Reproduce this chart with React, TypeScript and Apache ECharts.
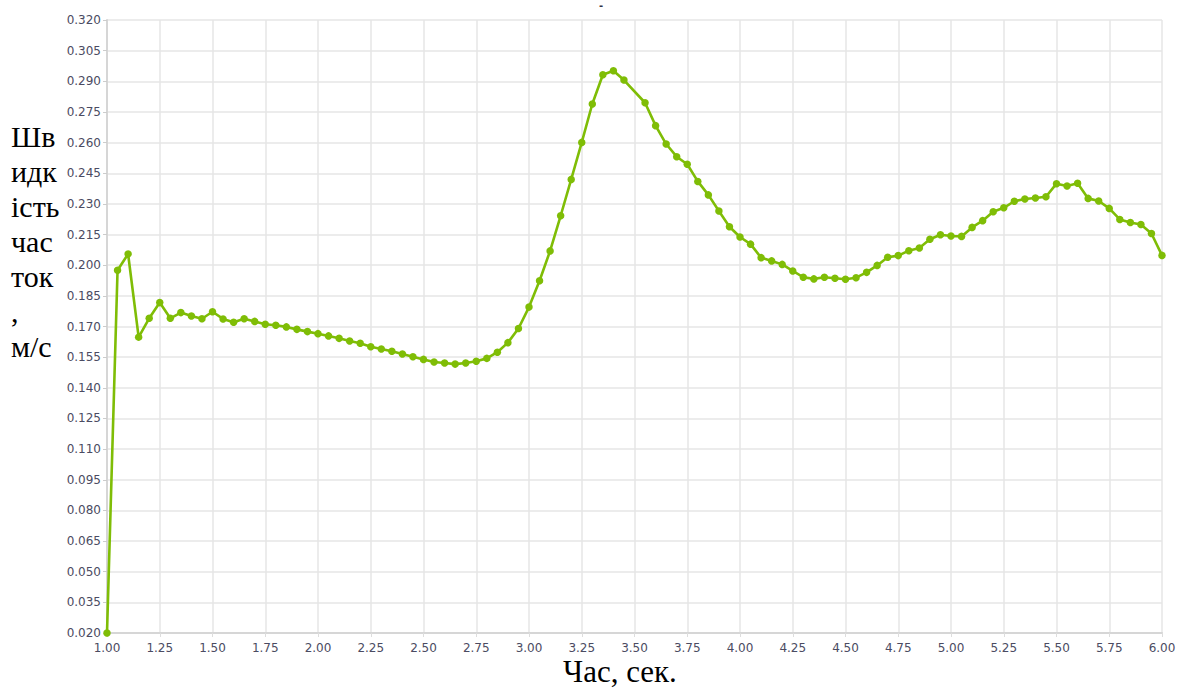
import React, { useEffect, useRef } from "react";
import * as echarts from "echarts";

const times = [
  1.0, 1.05, 1.1, 1.15, 1.2, 1.25, 1.3, 1.35, 1.4, 1.45, 1.5, 1.55, 1.6, 1.65, 1.7, 1.75, 1.8, 1.85, 1.9, 1.95,
  2.0, 2.05, 2.1, 2.15, 2.2, 2.25, 2.3, 2.35, 2.4, 2.45, 2.5, 2.55, 2.6, 2.65, 2.7, 2.75, 2.8, 2.85, 2.9, 2.95,
  3.0, 3.05, 3.1, 3.15, 3.2, 3.25, 3.3, 3.35, 3.4, 3.45, 3.55, 3.6, 3.65, 3.7, 3.75, 3.8, 3.85, 3.9, 3.95,
  4.0, 4.05, 4.1, 4.15, 4.2, 4.25, 4.3, 4.35, 4.4, 4.45, 4.5, 4.55, 4.6, 4.65, 4.7, 4.75, 4.8, 4.85, 4.9, 4.95,
  5.0, 5.05, 5.1, 5.15, 5.2, 5.25, 5.3, 5.35, 5.4, 5.45, 5.5, 5.55, 5.6, 5.65, 5.7, 5.75, 5.8, 5.85, 5.9, 5.95,
  6.0,
];

const speeds = [
  0.02, 0.1975, 0.2055, 0.1648, 0.174, 0.1817, 0.174, 0.1768, 0.1751, 0.1738, 0.1772, 0.1737, 0.1721, 0.1738, 0.1725, 0.1711, 0.1706, 0.1698, 0.1686, 0.1675,
  0.1665, 0.1654, 0.1642, 0.1629, 0.1618, 0.1601, 0.159, 0.1579, 0.1565, 0.1552, 0.1539, 0.1526, 0.1521, 0.1516, 0.1521, 0.153, 0.1544, 0.1574, 0.1621, 0.169,
  0.1795, 0.1924, 0.207, 0.2242, 0.242, 0.2601, 0.2789, 0.2932, 0.2952, 0.2906, 0.2795, 0.2683, 0.2593, 0.2531, 0.2494, 0.241, 0.2344, 0.2265, 0.2188,
  0.2138, 0.2103, 0.2037, 0.2021, 0.2004, 0.1972, 0.1941, 0.1933, 0.1941, 0.1936, 0.1931, 0.1939, 0.1965, 0.1999, 0.2039, 0.2047, 0.2071, 0.2084, 0.2127, 0.2149,
  0.2143, 0.2141, 0.2185, 0.2218, 0.2262, 0.2281, 0.2313, 0.2324, 0.2329, 0.2335, 0.2399, 0.2388, 0.2401, 0.2327, 0.2314, 0.2278, 0.2224, 0.2209, 0.2199, 0.2155,
  0.2048,
];

const yLabelLines = ["Шв", "идк", "ість", "час", "ток", ",", "м/с"];
const xAxisTitle = "Час, сек.";

export default function App() {
  const ref = useRef<HTMLDivElement>(null);
  useEffect(() => {
    if (!ref.current) return;
    const chart = echarts.init(ref.current, null, { renderer: "svg" });
    const labelColor = "#4b4b62";
    const option: any = {
      animation: false,
      backgroundColor: "#ffffff",
      grid: { left: 107, right: 23, top: 20, bottom: 62, containLabel: false },
      xAxis: {
        type: "value",
        min: 1,
        max: 6,
        interval: 0.25,
        axisLine: { show: true, lineStyle: { color: "#d6d6d6", width: 2 } },
        axisTick: { show: true, length: 4, lineStyle: { color: "#dddddd" } },
        splitLine: { show: true, lineStyle: { color: "#e6e6e6", width: 1.5 } },
        axisLabel: {
          color: labelColor,
          fontFamily: "DejaVu Sans",
          fontSize: 12,
          margin: 9,
          formatter: (v: number) => v.toFixed(2),
        },
      },
      yAxis: {
        type: "value",
        min: 0.02,
        max: 0.32,
        interval: 0.015,
        axisLine: { show: true, lineStyle: { color: "#d6d6d6", width: 2 } },
        axisTick: { show: true, length: 4, lineStyle: { color: "#cccccc" } },
        splitLine: { show: true, lineStyle: { color: "#e6e6e6", width: 1.5 } },
        axisLabel: {
          color: labelColor,
          fontFamily: "DejaVu Sans",
          fontSize: 12,
          margin: 6,
          formatter: (v: number) => v.toFixed(3),
        },
      },
      series: [
        {
          type: "line",
          data: times.map((t, i) => [t, speeds[i]]),
          symbol: "circle",
          symbolSize: 7.5,
          showSymbol: true,
          lineStyle: { color: "#7fbd06", width: 2.6 },
          itemStyle: { color: "#7fbd06" },
        },
      ],
      graphic: [
        ...yLabelLines.map((s, i) => ({
          type: "text",
          left: 11,
          top: 121 + i * 35,
          style: {
            text: s,
            font: '30px "Liberation Serif"',
            fill: "#000000",
          },
        })),
        {
          type: "text",
          left: 563,
          top: 656,
          style: {
            text: xAxisTitle,
            font: '31px "Liberation Serif"',
            fill: "#000000",
          },
        },
        {
          type: "text",
          left: 599,
          top: 0,
          style: {
            text: "-",
            font: 'bold 10px "DejaVu Sans"',
            fill: "#333344",
          },
        },
      ],
    };
    chart.setOption(option);
    return () => chart.dispose();
  }, []);
  return (
    <div
      ref={ref}
      style={{ position: "absolute", left: 0, top: 0, width: 1185, height: 695 }}
    />
  );
}
